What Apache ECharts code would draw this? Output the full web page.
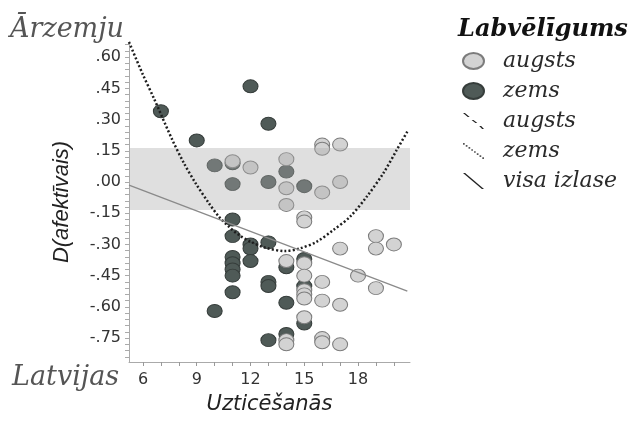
<!DOCTYPE html>
<html>
<head>
<meta charset="utf-8">
<script src="https://cdn.jsdelivr.net/npm/echarts@6/dist/echarts.min.js"></script>
<style>
html, body { margin: 0; padding: 0; background: #fff; }
#chart { width: 633px; height: 421px; }
</style>
</head>
<body>
<div id="chart"></div>
<script>
// tick labels
var xLabels = [6, 9, 12, 15, 18];
var yLabels = [-0.75, -0.6, -0.45, -0.3, -0.15, 0, 0.15, 0.3, 0.45, 0.6];

// Labvēlīgums: augsts (light points)
var augstsPts = [
    [11, 0.10], [12, 0.07], [14, 0.11], [14, -0.03], [14, -0.11],
    [15, -0.17], [15, -0.19], [16, 0.18], [16, 0.16], [17, 0.18],
    [16, -0.05], [17, 0.00], [14, -0.38], [15, -0.39], [15, -0.45],
    [15, -0.52], [15, -0.54], [15, -0.56], [15, -0.65], [14, -0.76],
    [14, -0.78], [16, -0.48], [16, -0.57], [17, -0.59], [16, -0.75],
    [16, -0.77], [17, -0.78], [17, -0.32], [18, -0.45], [19, -0.26],
    [19, -0.32], [20, -0.30], [19, -0.51]
];
// Labvēlīgums: zems (dark points)
var zemsPts = [
    [7, 0.34], [9, 0.20], [12, 0.46], [13, 0.28], [10, 0.08],
    [11, 0.09], [11, -0.01], [13, 0.00], [14, 0.05], [15, -0.02],
    [11, -0.18], [11, -0.26], [12, -0.30], [12, -0.32], [13, -0.29],
    [11, -0.36], [11, -0.39], [11, -0.42], [11, -0.45], [11, -0.53],
    [10, -0.62], [12, -0.38], [13, -0.48], [13, -0.50], [13, -0.76],
    [14, -0.58], [14, -0.73], [14, -0.41], [15, -0.37], [15, -0.50],
    [15, -0.68]
];
// dotted curve (zems)
var zemsCurve = [
    [5.22, 0.673], [5.96, 0.523], [6.61, 0.402], [7.64, 0.202], [8.29, 0.090],
    [8.94, -0.006], [9.68, -0.102], [10.24, -0.167], [10.80, -0.215],
    [11.36, -0.255], [12.08, -0.290], [12.81, -0.315], [13.92, -0.332],
    [14.76, -0.319], [15.69, -0.287], [16.62, -0.231], [17.55, -0.167],
    [18.48, -0.071], [19.41, 0.042], [20.16, 0.154], [20.80, 0.25]
];
var augstsCurve = [];
// visa izlase
var visaLine = [[5.22, -0.015], [20.75, -0.524]];
// grey band
var bandRange = [0.163, -0.135];

var ellipse = 'path://M0,10A10,10 0 1,1 20,10A10,10 0 1,1 0,10Z';
var iconSolid = 'path://M0,0L2.2,0L22,16L19.8,16Z';
var iconDashed = 'path://M0,0L2,0L7,4L5,4ZM9,7L11,7L15,10L13,10ZM17,13L19,13L22,16L20,16Z';
var iconDotted = 'path://M0,0h1.6v1.6h-1.6zM2.6,2h1.6v1.6h-1.6zM5.2,4h1.6v1.6h-1.6zM7.8,6h1.6v1.6h-1.6zM10.4,8h1.6v1.6h-1.6zM13,10h1.6v1.6h-1.6zM15.6,12h1.6v1.6h-1.6zM18.2,14h1.6v1.6h-1.6z';

var yMinor = [];
for (var t = -84; t <= 66; t += 3) yMinor.push(t / 100);
var xMinor = [];
for (var k = 6; k <= 20; k++) xMinor.push(k);

var serif = "'DejaVu Serif', 'Liberation Serif', serif";

var chart = echarts.init(document.getElementById('chart'));
chart.setOption({
    animation: false,
    title: {
        text: 'Labvēlīgums',
        left: 458,
        top: 18,
        padding: 0,
        textStyle: {
            fontFamily: serif,
            fontStyle: 'italic',
            fontWeight: 'bold',
            fontSize: 24,
            color: '#111'
        }
    },
    legend: {
        orient: 'vertical',
        left: 462,
        top: 50,
        padding: 0,
        itemWidth: 21,
        itemHeight: 16,
        itemGap: 8,
        symbolKeepAspect: false,
        textStyle: {
            fontFamily: serif,
            fontStyle: 'italic',
            fontSize: 22,
            color: '#2a2a2a',
            lineHeight: 16,
            padding: [0, 0, 0, 14]
        },
        data: [
            { name: 'augsts', icon: ellipse },
            { name: 'zems', icon: ellipse },
            { name: 'augsts ', icon: iconDashed },
            { name: 'zems ', icon: iconDotted },
            { name: 'visa izlase', icon: iconSolid }
        ]
    },
    graphic: [
        {
            type: 'text', left: 10, top: 16,
            style: { text: 'Ārzemju', fontFamily: serif, fontStyle: 'italic', fontSize: 27, fill: '#555' }
        },
        {
            type: 'text', left: 12, top: 364,
            style: { text: 'Latvijas', fontFamily: serif, fontStyle: 'italic', fontSize: 27, fill: '#555' }
        }
    ],
    grid: {
        left: 129,
        top: 42,
        width: 281,
        height: 320,
        containLabel: false
    },
    xAxis: {
        type: 'value',
        min: 5.22,
        max: 20.9,
        name: 'Uzticēšanās',
        nameLocation: 'middle',
        nameGap: 32,
        nameTextStyle: {
            fontFamily: "'DejaVu Sans', sans-serif",
            fontStyle: 'italic',
            fontSize: 21,
            color: '#222'
        },
        axisLine: { show: true, onZero: false, lineStyle: { color: '#aaa', width: 1 } },
        axisTick: { show: true, length: 4, customValues: xMinor, lineStyle: { color: '#999' } },
        axisLabel: {
            customValues: xLabels,
            margin: 10,
            fontFamily: "'DejaVu Sans', sans-serif",
            fontSize: 16,
            color: '#333'
        },
        splitLine: { show: false }
    },
    yAxis: {
        type: 'value',
        min: -0.865,
        max: 0.673,
        name: 'D(afektīvais)',
        nameLocation: 'middle',
        nameGap: 56,
        nameTextStyle: {
            fontFamily: "'Liberation Sans', Arial, sans-serif",
            fontStyle: 'italic',
            fontSize: 22,
            color: '#222'
        },
        axisLine: { show: true, onZero: false, lineStyle: { color: '#aaa', width: 1 } },
        axisTick: { show: true, length: 4, customValues: yMinor, lineStyle: { color: '#aaa' } },
        axisLabel: {
            customValues: yLabels,
            margin: 8,
            fontFamily: "'DejaVu Sans', sans-serif",
            fontSize: 16,
            color: '#333',
            formatter: function (v) {
                var s = Math.abs(v).toFixed(2).replace(/^0/, '');
                return (v < -1e-9 ? '-' : '') + s;
            }
        },
        splitLine: { show: false }
    },
    series: [
        {
            name: 'zems',
            type: 'scatter',
            symbol: ellipse,
            symbolSize: [15, 13],
            itemStyle: { color: '#4f5a57', borderColor: '#363d3b', borderWidth: 1, opacity: 1 },
            data: zemsPts,
            z: 2
        },
        {
            name: 'augsts',
            type: 'scatter',
            symbol: ellipse,
            symbolSize: [15, 13],
            itemStyle: { color: '#d3d3d3', borderColor: '#7c7c7c', borderWidth: 1, opacity: 1 },
            data: augstsPts,
            z: 3
        },
        {
            name: 'band',
            type: 'line',
            data: [],
            silent: true,
            markArea: {
                silent: true,
                z: 4,
                itemStyle: { color: 'rgba(170,170,170,0.38)' },
                data: [[{ yAxis: bandRange[0] }, { yAxis: bandRange[1] }]]
            }
        },
        {
            name: 'augsts ',
            type: 'line',
            color: '#222',
            showSymbol: false,
            lineStyle: { type: 'dashed', width: 1.5, color: '#222' },
            data: augstsCurve,
            z: 5
        },
        {
            name: 'zems ',
            type: 'line',
            color: '#555',
            smooth: 0.3,
            showSymbol: false,
            lineStyle: { type: [2, 2.2], width: 2.5, color: '#1e1e1e' },
            data: zemsCurve,
            z: 5
        },
        {
            name: 'visa izlase',
            type: 'line',
            color: '#222',
            showSymbol: false,
            lineStyle: { width: 1.3, color: '#8a8a8a' },
            data: visaLine,
            z: 5
        }
    ]
});
</script>
</body>
</html>
